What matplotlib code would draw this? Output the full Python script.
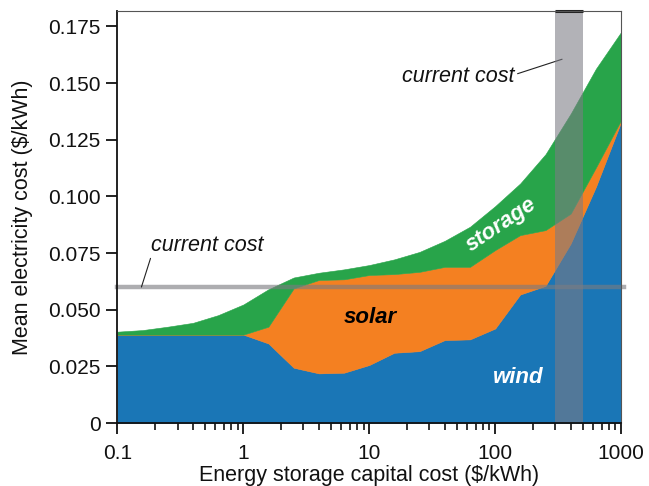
import matplotlib
matplotlib.use("Agg")
import matplotlib.pyplot as plt
from matplotlib.ticker import FixedLocator, FixedFormatter, LogLocator, NullFormatter

plt.rcParams['font.family'] = ['Liberation Sans', 'DejaVu Sans']

# Data
storage_cost = [0.1, 0.158, 0.251, 0.398, 0.631, 1, 1.58, 2.51, 3.98, 6.31, 10,
                15.8, 25.1, 39.8, 63.1, 100, 158, 251, 398, 631, 1000]
wind = [0.039, 0.039, 0.039, 0.039, 0.039, 0.039, 0.0351, 0.0244, 0.0219, 0.0222, 0.0256,
        0.031, 0.0317, 0.0366, 0.0369, 0.0417, 0.0567, 0.0605, 0.0792, 0.1042, 0.1328]
solar = [0, 0, 0, 0, 0, 0, 0.0074, 0.035, 0.0412, 0.0412, 0.0397,
         0.0347, 0.035, 0.0323, 0.032, 0.0346, 0.0262, 0.0246, 0.0132, 0.0085, 0.0008]
storage = [0.0013, 0.002, 0.0035, 0.0052, 0.0086, 0.0133, 0.0165, 0.0048, 0.0032, 0.0044, 0.0044,
           0.0065, 0.0088, 0.0115, 0.0177, 0.0194, 0.0228, 0.0335, 0.0441, 0.0436, 0.0389]
current_elec_cost = 0.06
current_storage_band = (300, 500)
y_ticks = [0, 0.025, 0.05, 0.075, 0.1, 0.125, 0.15, 0.175]
y_tick_labels = ["0", "0.025", "0.050", "0.075", "0.100", "0.125", "0.150", "0.175"]
x_ticks = [0.1, 1, 10, 100, 1000]
x_tick_labels = ["0.1", "1", "10", "100", "1000"]

c_wind = "#1a76b6"
c_solar = "#f48021"
c_storage = "#28a44a"

fig = plt.figure(figsize=(6.49, 4.86), dpi=100)
ax = fig.add_axes([0.181, 0.1296, 0.776, 0.8474])

ax.stackplot(storage_cost, wind, solar, storage,
             colors=[c_wind, c_solar, c_storage], linewidth=0.4,
             edgecolor='face')

ax.set_xscale('log')
ax.set_xlim(0.1, 1000)
ax.set_ylim(0, 0.1817)

# current cost markers
ax.axhline(current_elec_cost, color='#7b7b80', alpha=0.62, lw=3.2, zorder=3,
           clip_on=False, xmax=1.005)
ax.axvspan(current_storage_band[0], current_storage_band[1], color='#7b7b84',
           alpha=0.58, lw=0, zorder=4)
ax.plot(current_storage_band, [0.1817, 0.1817], color='#222222', lw=2.2,
        clip_on=False, zorder=6, solid_capstyle='butt')

# annotations
ax.annotate("current cost", xy=(0.155, current_elec_cost),
            xytext=(0.186, 0.0785), fontsize=15.5, style='italic', color='#111111',
            ha='left', va='center',
            arrowprops=dict(arrowstyle='-', color='#222222', lw=0.8,
                            shrinkA=0, shrinkB=0,
                            relpos=(0.0, 0.0)))
ax.annotate("current cost", xy=(340, 0.1605), xytext=(50.6, 0.1530),
            fontsize=15.5, style='italic', color='#111111',
            ha='center', va='center',
            arrowprops=dict(arrowstyle='-', color='#222222', lw=0.8,
                            shrinkA=0, shrinkB=0, relpos=(1.03, 0.62)))

ax.text(10.1, 0.0467, "solar", fontsize=16, fontweight='bold', style='italic',
        color='black', ha='center', va='center', zorder=5)
ax.text(152, 0.0203, "wind", fontsize=16, fontweight='bold', style='italic',
        color='white', ha='center', va='center', zorder=5)
ax.text(112, 0.0875, "storage", fontsize=16, fontweight='bold', style='italic',
        color='white', ha='center', va='center', rotation=34, zorder=5)

# axes styling
ax.yaxis.set_major_locator(FixedLocator(y_ticks))
ax.yaxis.set_major_formatter(FixedFormatter(y_tick_labels))
ax.xaxis.set_major_locator(FixedLocator(x_ticks))
ax.xaxis.set_major_formatter(FixedFormatter(x_tick_labels))
ax.xaxis.set_minor_locator(LogLocator(base=10, subs=range(2, 10)))
ax.xaxis.set_minor_formatter(NullFormatter())

ax.tick_params(axis='both', which='major', direction='out', length=8, width=1.3,
               labelsize=15, colors='#111111')
ax.tick_params(axis='x', which='major', pad=7)
ax.tick_params(axis='y', which='major', pad=4)
ax.tick_params(axis='x', which='minor', direction='out', length=5, width=1.2,
               colors='#111111')
for s in ['left', 'bottom']:
    ax.spines[s].set_linewidth(1.3)
    ax.spines[s].set_color('#111111')
for s in ['top', 'right']:
    ax.spines[s].set_linewidth(0.8)
    ax.spines[s].set_color('#555555')
for s in ax.spines.values():
    s.set_zorder(7)

ax.set_xlabel("Energy storage capital cost ($/kWh)", fontsize=15.5, color='#111111',
              labelpad=1.5)
ax.set_ylabel("Mean electricity cost ($/kWh)", fontsize=15.5, color='#111111',
              labelpad=11)

fig.savefig("out.png", dpi=100)
